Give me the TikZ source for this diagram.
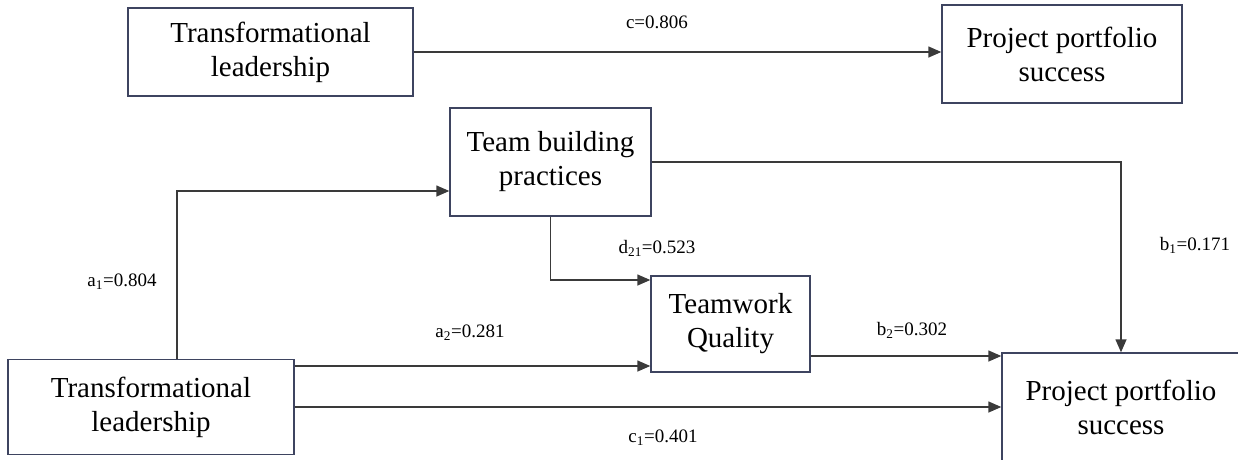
\documentclass[tikz,border=0pt]{standalone}
\usepackage{fontspec}
\setmainfont{Liberation Serif}
\usetikzlibrary{arrows.meta,calc}
\definecolor{boxline}{HTML}{3E4460}
\definecolor{wire}{HTML}{3A3A3A}
\tikzset{
  construct/.style={draw=boxline, line width=1.4pt, fill=white, align=center,
    inner sep=0pt, font=\fontsize{29}{34}\selectfont},
  path/.style={draw=wire, line width=1.4pt,
    -{Triangle[length=13pt,width=11pt]}},
  coef/.style={inner sep=0pt, font=\fontsize{19}{22}\selectfont}
}
\begin{document}
\begin{tikzpicture}[x=1pt,y=-1pt]
\useasboundingbox (0,0) rectangle (1238,459);
\clip (0,0) rectangle (1238,459);

% total effect model
\node[construct, minimum width=285pt, minimum height=88pt] (tl1) at (270.5,52)
  {Transformational\\leadership};
\node[construct, minimum width=240pt, minimum height=98pt] (pps1) at (1062,54)
  {Project portfolio\\success};

% mediation model
\node[construct, minimum width=201pt, minimum height=108pt] (tbp) at (550.5,162)
  {Team building\\practices};
\node[construct, minimum width=159pt, minimum height=96pt] (twq) at (730.5,324)
  {Teamwork\\Quality};
\node[construct, minimum width=286pt, minimum height=95pt] (tl2) at (151,407)
  {Transformational\\leadership};
\node[construct, minimum width=238pt, minimum height=108pt] (pps2) at (1121,407)
  {Project portfolio\\success};

% routing points
\coordinate (a1bend) at (177,191);
\coordinate (d21bend) at (550.5,280);
\coordinate (a2row) at (0,366);
\coordinate (b2row) at (0,356);

% paths
\draw[path] (tl1.east) -- (tl1.east -| pps1.west);
\draw[path] (a1bend |- tl2.north) -- (a1bend) -- (a1bend -| tbp.west);
\draw[path] (tbp.south) -- (d21bend) -- (d21bend -| twq.west);
\draw[path] (tbp.east) -| (pps2.north);
\draw[path] (a2row -| tl2.east) -- (a2row -| twq.west);
\draw[path] (b2row -| twq.east) -- (b2row -| pps2.west);
\draw[path] (tl2.east) -- (pps2.west);

% coefficients
\node[coef] (lc)  at (657,22)   {c=0.806};
\node[coef] (la1) at (122,282)  {a\textsubscript{1}=0.804};
\node[coef] (ld)  at (657,248)  {d\textsubscript{21}=0.523};
\node[coef] (lb1) at (1195,245) {b\textsubscript{1}=0.171};
\node[coef] (la2) at (470,333)  {a\textsubscript{2}=0.281};
\node[coef] (lb2) at (912,330)  {b\textsubscript{2}=0.302};
\node[coef] (lc1) at (663,438)  {c\textsubscript{1}=0.401};
\end{tikzpicture}
\end{document}
